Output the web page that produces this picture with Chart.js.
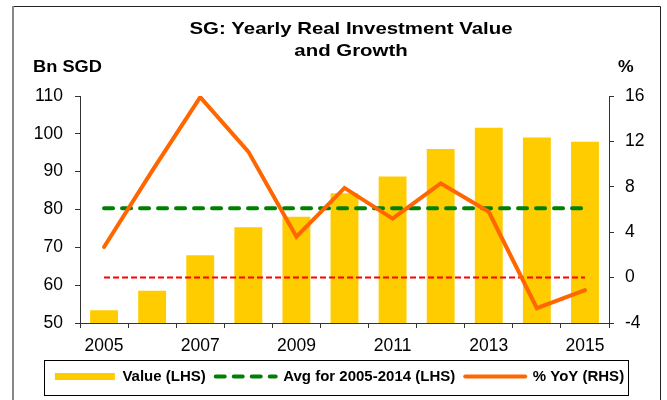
<!DOCTYPE html>
<html>
<head>
<meta charset="utf-8">
<script src="https://cdn.jsdelivr.net/npm/chart.js@4.4.0/dist/chart.umd.min.js"></script>
<style>
  html, body { margin:0; padding:0; background:#fff; }
  #wrap { position:relative; width:667px; height:400px; }
</style>
</head>
<body>
<div id="wrap"><canvas id="chart" width="667" height="400"></canvas></div>
<script>
// data
const years = ['2005','2006','2007','2008','2009','2010','2011','2012','2013','2014','2015'];
const valueLHS = [53.4, 58.5, 67.9, 75.3, 78.1, 84.3, 88.7, 96.0, 101.6, 99.0, 97.9];
const avgLHS   = [80.3, 80.3, 80.3, 80.3, 80.3, 80.3, 80.3, 80.3, 80.3, 80.3, 80.3];
const yoyRHS   = [2.7, 9.4, 15.9, 11.1, 3.6, 7.9, 5.2, 8.3, 5.8, -2.7, -1.1];
const zeroRHS  = [0, 0, 0, 0, 0, 0, 0, 0, 0, 0, 0];

const leftMin = 50, leftMax = 110, leftStep = 10;
const rightMin = -4, rightMax = 16, rightStep = 4;

const titleLines = ['SG: Yearly Real Investment Value', 'and Growth'];
const leftUnit = 'Bn SGD';
const rightUnit = '%';

const FONT = '"Liberation Sans", Arial, sans-serif';
const AXIS = '#333';
const YELLOW = '#FFCC00';
const GREEN = '#008000';
const ORANGE = '#FF6600';
const RED = '#FF0000';

Chart.defaults.font.family = FONT;
Chart.defaults.color = '#000';

// text in the picture is a bit wide, so stretch it sideways
function wideText(ctx, text, x, y, sx){
  ctx.save();
  ctx.translate(x, y);
  ctx.scale(sx, 1);
  ctx.fillText(text, 0, 0);
  ctx.restore();
}

/* frame, title, unit labels, legend box */
const decor = {
  id: 'decor',
  beforeDraw(chart){
    const ctx = chart.ctx;
    ctx.save();
    ctx.lineWidth = 1;
    ctx.strokeStyle = '#222';
    ctx.beginPath();
    ctx.moveTo(13.5, 6.5);
    ctx.lineTo(660.5, 6.5);
    ctx.lineTo(660.5, 400);
    ctx.stroke();
    ctx.strokeStyle = '#888';
    ctx.lineWidth = 2;
    ctx.beginPath();
    ctx.moveTo(13, 6);
    ctx.lineTo(13, 400);
    ctx.stroke();
    ctx.restore();
  },
  afterDraw(chart){
    const ctx = chart.ctx;
    ctx.save();
    ctx.fillStyle = '#000';
    ctx.textBaseline = 'middle';
    ctx.textAlign = 'center';
    ctx.font = 'bold 17px ' + FONT;
    wideText(ctx, titleLines[0], 351, 29, 1.2);
    wideText(ctx, titleLines[1], 351, 51, 1.2);

    ctx.font = 'bold 16px ' + FONT;
    ctx.textAlign = 'left';
    wideText(ctx, leftUnit, 33, 68, 1.14);
    wideText(ctx, rightUnit, 618, 68, 1.1);

    // border round the legend
    const lg = chart.legend;
    if (lg && lg.legendHitBoxes && lg.legendHitBoxes.length) {
      const hb = lg.legendHitBoxes;
      const last = hb[hb.length - 1];
      const l = Math.round(hb[0].left - 11) + 0.5;
      const r = Math.round(last.left + last.width + 4) + 0.5;
      const t = Math.round(lg.top + 1) + 0.5;
      const b = Math.round(lg.bottom + 1) + 0.5;
      ctx.strokeStyle = '#000';
      ctx.lineWidth = 1;
      ctx.strokeRect(l, t, r - l, b - t);
    }
    ctx.restore();
  }
};

const legendItems = [
  { ds: 0, text: 'Value (LHS)', color: YELLOW, width: 7, dash: [], cap: 'butt' },
  { ds: 1, text: 'Avg for 2005-2014 (LHS)', color: GREEN, width: 4, dash: [9, 9], cap: 'round' },
  { ds: 2, text: '% YoY (RHS)', color: ORANGE, width: 4, dash: [], cap: 'round' }
];

const axisGrid = { drawOnChartArea: false, drawTicks: true, tickLength: 5, color: AXIS };
const tickFont = { size: 17.5 };

new Chart(document.getElementById('chart'), {
  type: 'bar',
  data: {
    labels: years,
    datasets: [
      {
        type: 'bar',
        label: 'Value (LHS)',
        data: valueLHS,
        yAxisID: 'y',
        backgroundColor: YELLOW,
        borderWidth: 0,
        categoryPercentage: 1,
        barPercentage: 0.58,
        order: 3
      },
      {
        type: 'line',
        label: 'Avg for 2005-2014 (LHS)',
        data: avgLHS,
        yAxisID: 'y',
        borderColor: GREEN,
        borderWidth: 4,
        borderDash: [9, 9],
        borderCapStyle: 'round',
        pointRadius: 0,
        fill: false,
        order: 1
      },
      {
        type: 'line',
        label: '% YoY (RHS)',
        data: yoyRHS,
        yAxisID: 'y1',
        borderColor: ORANGE,
        borderWidth: 4,
        borderCapStyle: 'round',
        borderJoinStyle: 'miter',
        tension: 0,
        pointRadius: 0,
        fill: false,
        order: 0
      },
      {
        type: 'line',
        label: 'zero',
        data: zeroRHS,
        yAxisID: 'y1',
        borderColor: RED,
        borderWidth: 2,
        borderDash: [6, 3],
        pointRadius: 0,
        fill: false,
        order: 2
      }
    ]
  },
  options: {
    responsive: false,
    animation: false,
    layout: { padding: { top: 96, left: 12, right: 0, bottom: 6 } },
    plugins: {
      title: { display: false },
      tooltip: { enabled: false },
      legend: {
        position: 'bottom',
        labels: {
          usePointStyle: true,
          pointStyleWidth: 60,
          boxHeight: 14,
          padding: 10,
          color: '#000',
          font: { size: 15, weight: 'bold' },
          generateLabels(chart){
            return legendItems.map(it => ({
              text: it.text,
              datasetIndex: it.ds,
              fillStyle: it.color,
              strokeStyle: it.color,
              lineWidth: it.width,
              lineDash: it.dash,
              lineCap: it.cap,
              pointStyle: 'line',
              hidden: !chart.isDatasetVisible(it.ds),
              fontColor: '#000'
            }));
          }
        }
      }
    },
    scales: {
      x: {
        offset: true,
        grid: Object.assign({ offset: true }, axisGrid),
        border: { color: AXIS, width: 1 },
        ticks: {
          autoSkip: false,
          maxRotation: 0,
          padding: 8,
          color: '#000',
          font: tickFont,
          callback: (v, i) => (i % 2 === 0 ? years[i] : '')
        },
        afterFit(s){ s.height = 36; }
      },
      y: {
        position: 'left',
        min: leftMin,
        max: leftMax,
        grid: axisGrid,
        border: { color: AXIS, width: 1 },
        ticks: { stepSize: leftStep, padding: 12, color: '#000', font: tickFont },
        afterFit(s){ s.width = 68; }
      },
      y1: {
        position: 'right',
        min: rightMin,
        max: rightMax,
        grid: axisGrid,
        border: { color: AXIS, width: 1 },
        ticks: { stepSize: rightStep, padding: 11, color: '#000', font: tickFont },
        afterFit(s){ s.width = 58; }
      }
    }
  },
  plugins: [decor]
});
</script>
</body>
</html>
